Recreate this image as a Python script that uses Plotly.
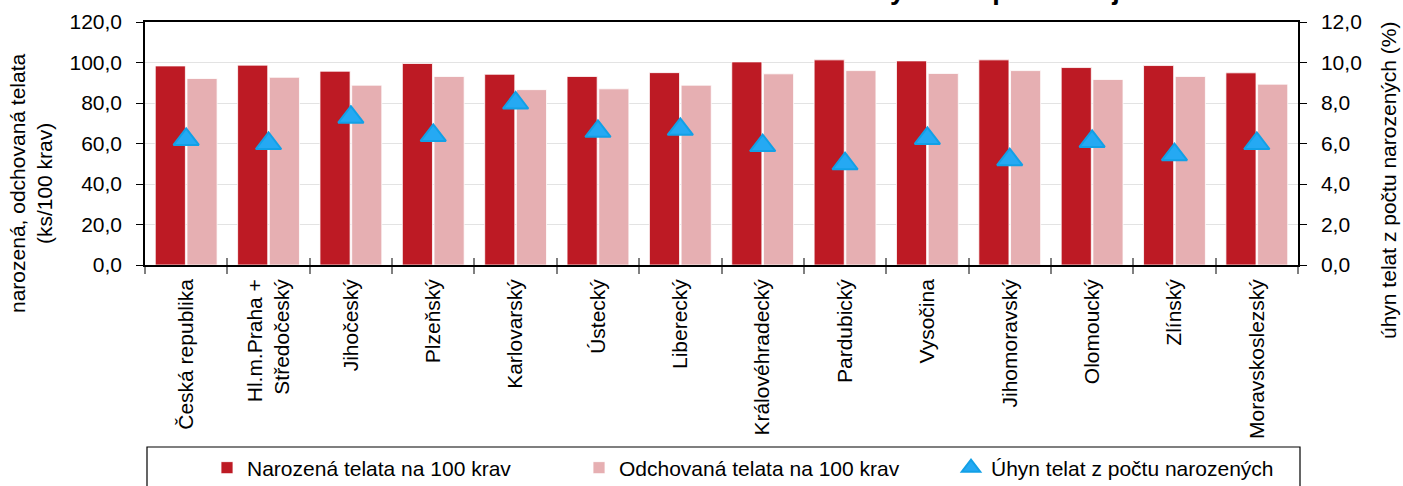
import plotly.graph_objects as go

categories = ["Česká republika", "Hl.m.Praha +<br>Středočeský", "Jihočeský", "Plzeňský",
              "Karlovarský", "Ústecký", "Liberecký", "Královéhradecký", "Pardubický",
              "Vysočina", "Jihomoravský", "Olomoucký", "Zlínský", "Moravskoslezský"]
narozena = [98.3, 98.7, 95.7, 99.5, 94.2, 93.1, 95.0, 100.3, 101.3, 100.8, 101.3, 97.5, 98.5, 94.9]
odchovana = [92.1, 92.7, 88.8, 93.1, 86.6, 87.0, 88.8, 94.4, 96.0, 94.6, 96.0, 91.6, 93.1, 89.3]
uhyn = [6.2, 6.0, 7.3, 6.4, 8.0, 6.6, 6.7, 5.9, 5.0, 6.25, 5.2, 6.1, 5.45, 6.0]

names = ["Narozená telata na 100 krav", "Odchovaná telata na 100 krav", "Úhyn telat z počtu narozených"]
title_text = "Narozená a odchovaná telata a úhyn telat podle krajů"
left_title = "narozená, odchovaná telata<br>(ks/100 krav)"
right_title = "úhyn telat z počtu narozených (%)"

FONT = "Liberation Sans, Arial, sans-serif"
W, H = 1403, 486
ML, MR, MT, MB = 145, 105, 22, 221
PW, PH = W - ML - MR, H - MT - MB

def px_x(px):
    return (px - ML) / PW

def px_y(py):
    return (H - MB - py) / PH

n = len(categories)
boundaries = [i - 0.5 for i in range(n + 1)]

fig = go.Figure()
fig.add_trace(go.Bar(x=categories, y=narozena, name=names[0],
                     marker=dict(color="#BD1A24", line=dict(color="white", width=0.8))))
fig.add_trace(go.Bar(x=categories, y=odchovana, name=names[1],
                     marker=dict(color="#E6AFB2", line=dict(color="white", width=0.8))))
fig.add_trace(go.Scatter(x=categories, y=uhyn, name=names[2], mode="markers", yaxis="y2",
                         marker=dict(symbol="triangle-up", size=22, color="#25A9F3",
                                     line=dict(color="#12A0E6", width=2))))
# invisible helper trace so the overlay axis (cross tick marks) is drawn
fig.add_trace(go.Scatter(x=[boundaries[0], boundaries[-1]], y=[0, 0], xaxis="x2", yaxis="y",
                         mode="markers", marker=dict(opacity=0), showlegend=False, hoverinfo="skip"))

fig.update_layout(
    template="none",
    width=W, height=H,
    margin=dict(l=ML, r=MR, t=MT, b=MB, pad=0, autoexpand=False),
    paper_bgcolor="white", plot_bgcolor="white",
    font=dict(family=FONT, size=21, color="#000000"),
    separators=", ",
    barmode="group", bargap=0.23, bargroupgap=0.05,
    showlegend=True,
    legend=dict(orientation="h", x=px_x(207), xanchor="left", y=px_y(468), yanchor="middle",
                font=dict(size=21, color="#000000"), entrywidth=327, entrywidthmode="pixels",
                bgcolor="rgba(0,0,0,0)", borderwidth=0, traceorder="normal"),
    xaxis=dict(type="category", range=[boundaries[0], boundaries[-1]], automargin=False,
               showline=True, linecolor="#000000", linewidth=1.5, mirror=True,
               ticks="outside", tickson="boundaries", ticklen=7, tickcolor="#808080", tickwidth=1.5,
               tickangle=-90, ticklabelstandoff=4, showgrid=False, zeroline=False,
               tickfont=dict(size=21, color="#000000")),
    xaxis2=dict(overlaying="x", anchor="y", side="bottom", range=[boundaries[0], boundaries[-1]],
                automargin=False, tickvals=boundaries, ticks="inside", ticklen=7, tickcolor="#808080",
                tickwidth=1.5, showticklabels=False, showgrid=False, showline=False, zeroline=False),
    yaxis=dict(range=[0, 120], dtick=20, tickformat=".1f", automargin=False, showline=True,
               linecolor="#000000", linewidth=1.5, ticks="outside", ticklen=7, tickcolor="#000000",
               ticklabelstandoff=10, showgrid=True, gridcolor="#E3E3E3", gridwidth=1, zeroline=False,
               tickfont=dict(size=21, color="#000000")),
    yaxis2=dict(range=[0, 12], dtick=2, tickformat=".1f", overlaying="y", side="right",
                automargin=False, showline=True, linecolor="#000000", linewidth=1.5, ticks="outside",
                ticklen=7, tickcolor="#000000", ticklabelstandoff=10, showgrid=False, zeroline=False,
                tickfont=dict(size=21, color="#000000")),
    annotations=[
        dict(text=title_text, xref="paper", yref="paper", x=px_x(795), y=1, xanchor="center",
             yanchor="bottom", yshift=15, showarrow=False,
             font=dict(family=FONT, size=27, color="#000000", weight="bold")),
        dict(text=left_title, xref="paper", yref="paper", x=px_x(31), y=px_y(183),
             xanchor="center", yanchor="middle", textangle=-90, showarrow=False,
             font=dict(family=FONT, size=21, color="#000000")),
        dict(text=right_title, xref="paper", yref="paper", x=px_x(1389), y=px_y(180),
             xanchor="center", yanchor="middle", textangle=-90, showarrow=False,
             font=dict(family=FONT, size=21, color="#000000")),
    ],
    shapes=[
        dict(type="rect", xref="paper", yref="paper", x0=px_x(147), x1=px_x(1300),
             y0=px_y(495), y1=px_y(447), line=dict(color="#000000", width=1.2),
             fillcolor="rgba(0,0,0,0)", layer="above"),
    ],
)

fig.write_html("out.html", config={"displayModeBar": False},
               post_script="document.body.style.margin='0px';document.body.style.overflow='hidden';")
